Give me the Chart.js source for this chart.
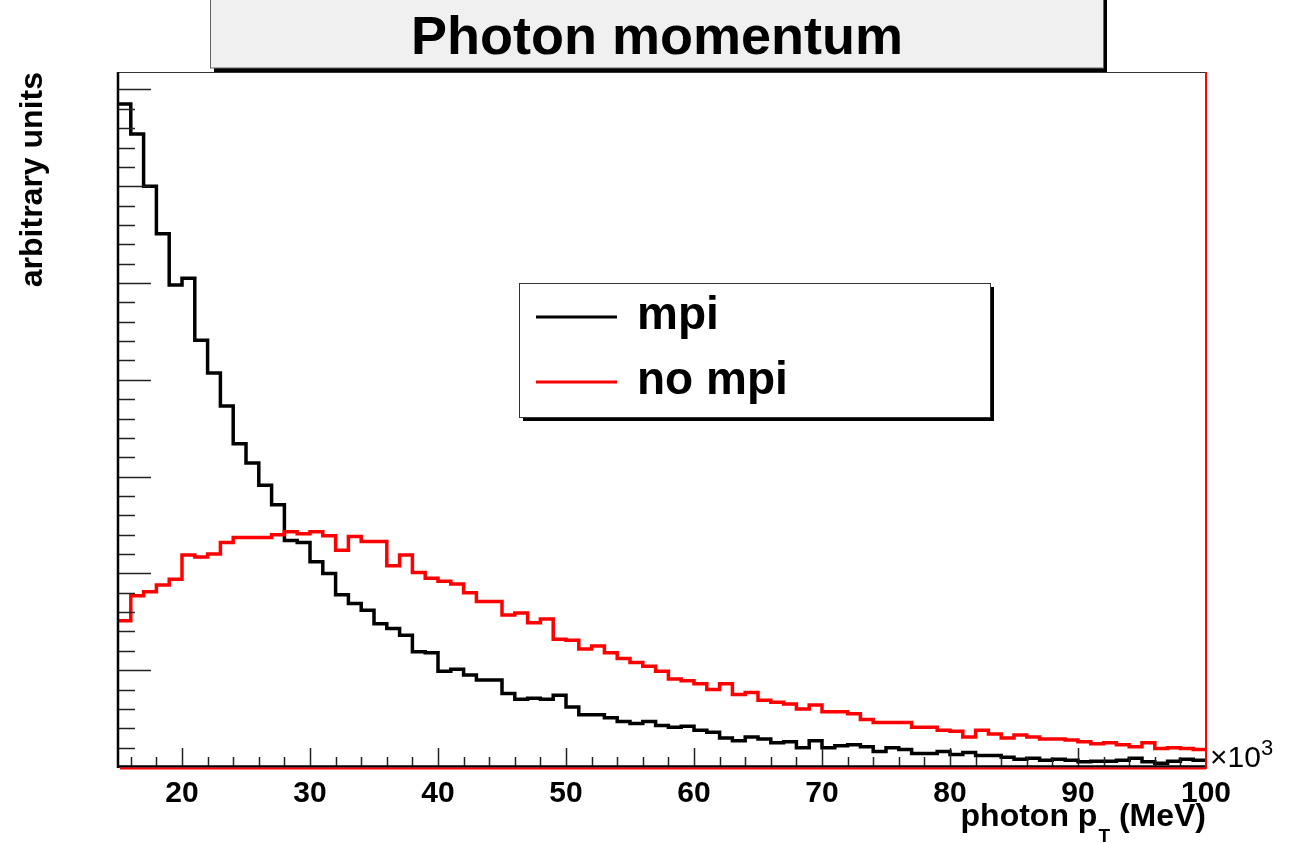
<!DOCTYPE html>
<html>
<head>
<meta charset="utf-8">
<title>Photon momentum</title>
<script src="https://cdn.jsdelivr.net/npm/chart.js@4.4.0/dist/chart.umd.min.js"></script>
<style>
    html, body { margin: 0; padding: 0; background: #fff; }
    #photon-chart { display: block; }
</style>
</head>
<body>
<canvas id="photon-chart" width="1291" height="843"></canvas>
<script>
// histogram binning (x in units of 10^3 MeV)
const binLow = 15;
const binHigh = 100;

// bin contents, arbitrary units (one value per 1x10^3 bin, 15 -> 100)
const mpiValues = [
    6.85, 6.54, 6.00, 5.51, 4.98, 5.05, 4.41, 4.07, 3.73, 3.34,
    3.14, 2.91, 2.71, 2.34, 2.32, 2.12, 2.00, 1.78, 1.69, 1.62,
    1.48, 1.43, 1.36, 1.19, 1.18, 0.99, 1.01, 0.95, 0.90, 0.90,
    0.76, 0.70, 0.71, 0.70, 0.74, 0.62, 0.54, 0.54, 0.51, 0.47,
    0.45, 0.47, 0.43, 0.41, 0.42, 0.38, 0.36, 0.30, 0.27, 0.31,
    0.29, 0.25, 0.26, 0.20, 0.27, 0.20, 0.22, 0.23, 0.21, 0.16,
    0.20, 0.18, 0.14, 0.14, 0.16, 0.13, 0.15, 0.12, 0.12, 0.10,
    0.08, 0.09, 0.07, 0.08, 0.07, 0.055, 0.06, 0.06, 0.07, 0.09,
    0.055, 0.04, 0.06, 0.08, 0.07
];
const noMpiValues = [
    1.51, 1.77, 1.81, 1.88, 1.94, 2.19, 2.17, 2.20, 2.32, 2.37,
    2.37, 2.37, 2.40, 2.43, 2.41, 2.43, 2.39, 2.24, 2.38, 2.33,
    2.33, 2.08, 2.19, 2.01, 1.95, 1.92, 1.89, 1.80, 1.71, 1.71,
    1.57, 1.59, 1.49, 1.53, 1.32, 1.31, 1.22, 1.25, 1.18, 1.12,
    1.08, 1.04, 0.99, 0.91, 0.89, 0.86, 0.80, 0.86, 0.75, 0.77,
    0.69, 0.67, 0.65, 0.60, 0.64, 0.57, 0.57, 0.55, 0.49, 0.46,
    0.46, 0.46, 0.41, 0.41, 0.38, 0.37, 0.31, 0.38, 0.34, 0.30,
    0.33, 0.31, 0.29, 0.29, 0.28, 0.26, 0.24, 0.25, 0.23, 0.21,
    0.25, 0.19, 0.20, 0.19, 0.18
];

// axis labels
const xTickLabels = [20, 30, 40, 50, 60, 70, 80, 90, 100];
const yMajorTicks = [0, 1, 2, 3, 4, 5, 6, 7];
const yMax = 7.18;

const FONT = '"Liberation Sans", Arial, Helvetica, sans-serif';

//turn bin contents into step points (left edge of each bin + closing edge)
function toSteps(values) {
    const width = (binHigh - binLow) / values.length;
    const pts = values.map((v, i) => ({ x: binLow + i * width, y: v }));
    pts.push({ x: binHigh, y: values[values.length - 1] });
    return pts;
}

//ROOT style frame, ticks, title box, legend and axis titles
const rootFrame = {
    id: 'rootFrame',
    afterDatasetsDraw(chart) {
        const { ctx, chartArea: a, scales: { x, y } } = chart;
        ctx.save();

        // y ticks (inside the frame)
        ctx.strokeStyle = '#222';
        ctx.lineWidth = 1.5;
        ctx.beginPath();
        yMajorTicks.forEach(v => {
            const py = Math.round(y.getPixelForValue(v)) + 0.5;
            if (v > 0) {
                ctx.moveTo(a.left, py);
                ctx.lineTo(a.left + 33, py);
            }
            for (let k = 1; k < 5; k++) {
                const mv = v + k * 0.2;
                if (mv > yMax) break;
                const my = Math.round(y.getPixelForValue(mv)) + 0.5;
                ctx.moveTo(a.left, my);
                ctx.lineTo(a.left + 17, my);
            }
        });
        // x ticks
        for (let v = binLow + 1; v < binHigh; v++) {
            const px = Math.round(x.getPixelForValue(v)) + 0.5;
            if (v % 10 === 0) {
                ctx.moveTo(px, a.bottom);
                ctx.lineTo(px, a.bottom - 19);
            } else if (v % 2 === 0) {
                ctx.moveTo(px, a.bottom);
                ctx.lineTo(px, a.bottom - 10);
            }
        }
        ctx.stroke();

        // frame
        ctx.lineWidth = 1;
        ctx.strokeStyle = '#333';
        ctx.beginPath();
        ctx.moveTo(a.left, a.top + 0.5);
        ctx.lineTo(a.right, a.top + 0.5);
        ctx.stroke();
        ctx.lineWidth = 2.5;
        ctx.strokeStyle = '#000';
        ctx.beginPath();
        ctx.moveTo(a.left, a.top);
        ctx.lineTo(a.left, a.bottom + 1);
        ctx.moveTo(a.left, a.bottom - 0.5);
        ctx.lineTo(a.right, a.bottom - 0.5);
        ctx.stroke();
        ctx.strokeStyle = '#ff0000';
        ctx.lineWidth = 2;
        ctx.beginPath();
        ctx.moveTo(a.left + 2, a.bottom + 1.5);
        ctx.lineTo(a.right, a.bottom + 1.5);
        ctx.moveTo(a.right, a.top);
        ctx.lineTo(a.right, a.bottom + 2);
        ctx.stroke();

        // x tick labels
        ctx.fillStyle = '#000';
        ctx.font = 'bold 30px ' + FONT;
        ctx.textAlign = 'center';
        ctx.textBaseline = 'alphabetic';
        xTickLabels.forEach(v => {
            ctx.fillText(String(v), x.getPixelForValue(v), 802);
        });

        // x10^3
        ctx.textAlign = 'left';
        ctx.font = '30px ' + FONT;
        ctx.fillText('\u00d710', a.right + 4, 767);
        const w10 = ctx.measureText('\u00d710').width;
        ctx.font = '22px ' + FONT;
        ctx.fillText('3', a.right + 4 + w10, 755);

        // x axis title, right aligned: photon p_T (MeV)
        ctx.textAlign = 'right';
        let xr = a.right;
        ctx.font = 'bold 32px ' + FONT;
        ctx.fillText(' (MeV)', xr, 826);
        xr -= ctx.measureText(' (MeV)').width;
        ctx.font = 'bold 19px ' + FONT;
        ctx.fillText('T', xr, 842);
        xr -= ctx.measureText('T').width + 1;
        ctx.font = 'bold 32px ' + FONT;
        ctx.fillText('photon p', xr, 826);

        // y axis title
        ctx.save();
        ctx.translate(42, a.top);
        ctx.rotate(-Math.PI / 2);
        ctx.textAlign = 'right';
        ctx.font = 'bold 32px ' + FONT;
        ctx.fillText('arbitrary units', 0, 0);
        ctx.restore();

        // title box with shadow
        ctx.fillStyle = '#000';
        ctx.fillRect(214, 0, 1107 - 214, 72);
        ctx.fillStyle = '#f0f0f0';
        ctx.fillRect(210, -2, 1103 - 210, 70);
        ctx.strokeStyle = '#666';
        ctx.lineWidth = 1;
        ctx.strokeRect(210.5, -2, 1103 - 210, 70);
        ctx.fillStyle = '#000';
        ctx.textAlign = 'center';
        ctx.font = 'bold 54px ' + FONT;
        ctx.fillText('Photon momentum', 657, 54);

        // legend box with shadow
        ctx.fillStyle = '#000';
        ctx.fillRect(523, 287, 994 - 523, 421 - 287);
        ctx.fillStyle = '#fff';
        ctx.fillRect(519, 283, 990 - 519, 417 - 283);
        ctx.strokeStyle = '#333';
        ctx.strokeRect(519.5, 283.5, 990 - 519, 417 - 283);
        chart.data.datasets.forEach((ds, i) => {
            const ly = 317 + i * 65;
            ctx.strokeStyle = ds.borderColor;
            ctx.lineWidth = 3;
            ctx.beginPath();
            ctx.moveTo(536, ly);
            ctx.lineTo(617, ly);
            ctx.stroke();
            ctx.fillStyle = '#000';
            ctx.textAlign = 'left';
            ctx.font = 'bold 46px ' + FONT;
            ctx.fillText(ds.label, 637, ly + 12);
        });

        ctx.restore();
    }
};

document.addEventListener('DOMContentLoaded', () => {
    const canvas = document.getElementById('photon-chart').getContext('2d');

    new Chart(canvas, {
        type: 'line',
        data: {
            datasets: [{
                label: 'mpi',
                data: toSteps(mpiValues),
                borderColor: '#000000',
                borderWidth: 3.5,
                stepped: 'before',
                pointRadius: 0,
                fill: false,
                order: 1
            }, {
                label: 'no mpi',
                data: toSteps(noMpiValues),
                borderColor: '#ff0000',
                borderWidth: 3.5,
                stepped: 'before',
                pointRadius: 0,
                fill: false,
                order: 0
            }]
        },
        options: {
            responsive: false,
            animation: false,
            layout: {
                padding: { left: 118, top: 72, right: 85, bottom: 76 }
            },
            plugins: {
                legend: { display: false },
                tooltip: { enabled: false }
            },
            scales: {
                x: { type: 'linear', min: binLow, max: binHigh, display: false },
                y: { type: 'linear', min: 0, max: yMax, display: false }
            }
        },
        plugins: [rootFrame]
    });
});
</script>
</body>
</html>
